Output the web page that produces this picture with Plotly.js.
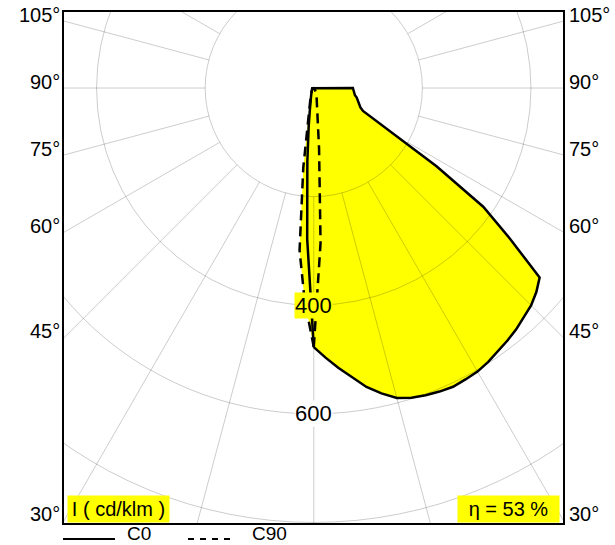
<!DOCTYPE html>
<html>
<head>
<meta charset="utf-8">
<script src="https://cdn.plot.ly/plotly-3.0.1.min.js"></script>
<style>html,body{margin:0;padding:0;background:#fff;}#chart{width:615px;height:545px;}</style>
</head>
<body>
<div id="chart"></div>
<script>
// gamma angles (degrees from nadir)
const gamma = [0,2.5,5,7.5,10,12.5,15,17.5,20,22.5,25,27.5,30,32.5,35,37.5,40,42.5,45,47.5,50,52.5,55,57.5,60,62.5,65,67.5,70,72.5,75,77.5,80,82.5,85,87.5,90];
// intensities cd/klm
const c0   = [477,497,517,537,559,576,591,598,602,605,607,605,603,598,592,586,580,573,566,556,543,455,381,268,165,127,100,93,89,86,84,81,77,75,74,73,72];
const c180 = [477,278,136,72,42,30,22,17,14,12,10,9,8,7,6,6,5,5,4,4,4,3,3,3,3,2,2,2,2,2,1,1,1,1,1,0,0];
const c90  = [477,286,112,60,42,31,24,19,15,13,11,9,8,7,6,5,5,4,4,4,3,3,3,3,2,2,2,2,2,1,1,1,1,1,1,0,0];
const c270 = [477,390,300,148,60,36,26,20,16,13,11,10,9,8,7,6,5,5,4,4,4,3,3,3,3,2,2,2,2,2,1,1,1,1,1,0,0];
const rings = [200,400,600,800];
const ringLabels = [400,600];
const spokeAngles = [-180,-165,-150,-135,-120,-105,-90,-75,-60,-45,-30,-15,0,15,30,45,60,75,90,105,120,135,150,165,180];
const angleTicks = [30,45,60,75,90,105];
const legendNames = ['C0','C90'];
const unitLabel = 'I ( cd/klm )';
const etaLabel = '\u03b7 = 53 %';

const XR = [-460, 459], YR = [-801, 140];
const rad = d => d*Math.PI/180;
const FONT = 'Liberation Sans, Arial, Helvetica, sans-serif';

function loop(right, left){
  const x=[], y=[];
  for(let i=0;i<gamma.length;i++){ x.push(right[i]*Math.sin(rad(gamma[i]))); y.push(-right[i]*Math.cos(rad(gamma[i]))); }
  for(let i=gamma.length-1;i>=0;i--){ x.push(-left[i]*Math.sin(rad(gamma[i]))); y.push(-left[i]*Math.cos(rad(gamma[i]))); }
  return {x,y};
}
const L1 = loop(c0, c180), L2 = loop(c90, c270);

const traces = [
  {x:L1.x, y:L1.y, mode:'lines', fill:'toself', fillcolor:'#ffff00', line:{width:0, color:'rgba(0,0,0,0)'}, hoverinfo:'skip'},
  {x:L2.x, y:L2.y, mode:'lines', fill:'toself', fillcolor:'#ffff00', line:{width:0, color:'rgba(0,0,0,0)'}, hoverinfo:'skip'},
  {x:L1.x, y:L1.y, mode:'lines', name:legendNames[0], line:{color:'#000', width:2.5}},
  {x:L2.x, y:L2.y, mode:'lines', name:legendNames[1], line:{color:'#000', width:2.5, dash:'10px,6px'}}
];

const grid = 'rgba(0,0,0,0.2)';
const shapes = [];
rings.forEach(r => shapes.push({type:'circle', xref:'x', yref:'y', x0:-r, x1:r, y0:-r, y1:r, line:{color:grid, width:1}, layer:'above'}));
spokeAngles.forEach(a => {
  const s = Math.sin(rad(a)), c = Math.cos(rad(a));
  shapes.push({type:'line', xref:'x', yref:'y', x0:200*s, y0:-200*c, x1:1200*s, y1:-1200*c, line:{color:grid, width:1}, layer:'above'});
});
// legend samples
const py = v => (523 - v)/511, px = v => (v - 64)/499;
shapes.push({type:'line', xref:'paper', yref:'paper', x0:px(63), x1:px(115), y0:py(539), y1:py(539), line:{color:'#000', width:2}});
shapes.push({type:'line', xref:'paper', yref:'paper', x0:px(188), x1:px(232), y0:py(539), y1:py(539), line:{color:'#000', width:2, dash:'6px,6px'}});

const annotations = [];
ringLabels.forEach((r,i) => annotations.push({x:0, y:-r, xref:'x', yref:'y', text:String(r), showarrow:false,
  font:{family:FONT, size:22, color:'#000'}, bgcolor: i===0 ? '#ffff00' : '#ffffff', borderpad:0}));
angleTicks.forEach(a => {
  const yv = (a===90) ? 0 : -XR[1]/Math.tan(rad(a));
  annotations.push({xref:'paper', yref:'y', x:0, y:yv, xanchor:'right', yanchor:'middle', xshift:-2, yshift:6,
    text:a+'°', showarrow:false, font:{family:FONT, size:20, color:'#000'}});
  annotations.push({xref:'paper', yref:'y', x:1, y:yv, xanchor:'left', yanchor:'middle', xshift:4, yshift:6,
    text:a+'°', showarrow:false, font:{family:FONT, size:20, color:'#000'}});
});
annotations.push({xref:'paper', yref:'paper', x:px(66.7), y:py(522.5), xanchor:'left', yanchor:'bottom', text:unitLabel,
  showarrow:false, bgcolor:'#ffff00', borderpad:2, width:97, font:{family:FONT, size:20, color:'#000'}});
annotations.push({xref:'paper', yref:'paper', x:px(560), y:py(522.5), xanchor:'right', yanchor:'bottom', text:etaLabel,
  showarrow:false, bgcolor:'#ffff00', borderpad:2, width:97, font:{family:FONT, size:20, color:'#000'}});
annotations.push({xref:'paper', yref:'paper', x:px(126), y:py(545), xanchor:'left', yanchor:'bottom', text:legendNames[0],
  showarrow:false, borderpad:0, font:{family:FONT, size:19, color:'#000'}});
annotations.push({xref:'paper', yref:'paper', x:px(251), y:py(545), xanchor:'left', yanchor:'bottom', text:legendNames[1],
  showarrow:false, borderpad:0, font:{family:FONT, size:19, color:'#000'}});

const ax = {showgrid:false, zeroline:false, showticklabels:false, ticks:'', showline:true, mirror:true,
  linecolor:'#000', linewidth:2, fixedrange:true};
const layout = {
  width:615, height:545, margin:{l:64, r:52, t:12, b:22, pad:0},
  paper_bgcolor:'#fff', plot_bgcolor:'#fff', showlegend:false,
  xaxis:Object.assign({range:XR}, ax), yaxis:Object.assign({range:YR}, ax),
  shapes, annotations
};
Plotly.newPlot('chart', traces, layout, {displayModeBar:false, staticPlot:true});
</script>
</body>
</html>
